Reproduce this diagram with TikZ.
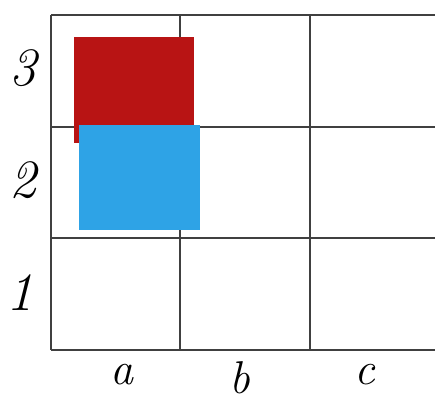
\documentclass[tikz,border=0pt]{standalone}
\usepackage{xcolor}
\usepackage{tikz}
\usetikzlibrary{positioning,calc}
\definecolor{piecered}{HTML}{B81414}
\definecolor{pieceblue}{HTML}{2EA3E6}
\tikzset{
  gridline/.style={draw=black!75, line width=1.6pt},
  rowlab/.style={font=\fontsize{54}{54}\selectfont\itshape, inner sep=0pt},
  collab/.style={font=\fontsize{46}{46}\selectfont\itshape, inner sep=0pt}
}
\begin{document}
\begin{tikzpicture}[x=1pt,y=-1pt]
  \useasboundingbox (0,0) rectangle (435,409);

  % board
  \foreach \y in {15,127,238,350}
    \draw[gridline] (51,\y) -- (435,\y);
  \foreach \x in {51,180,310}
    \draw[gridline] (\x,15) -- (\x,350);

  % pieces
  \fill[piecered] (74,37) rectangle (194,143);
  \fill[pieceblue] (79,125) rectangle (200,230);

  % labels
  \node[rowlab] (r3) at (23,68) {3};
  \node[rowlab] (r2) at (23,180) {2};
  \node[rowlab] (r1) at (20,293) {1};
  \node[collab] (ca) at (122,375) {a};
  \node[collab] (cb) at (240,378) {b};
  \node[collab] (cc) at (365,375) {c};
\end{tikzpicture}
\end{document}
